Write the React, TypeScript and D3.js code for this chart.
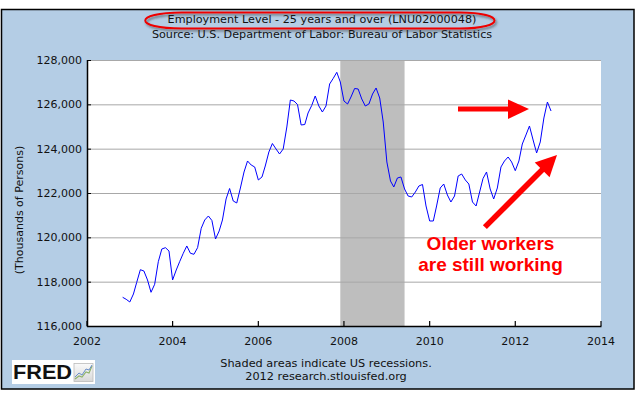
import React from "react";
import * as d3 from "d3";

// monthly values, thousands of persons (LNU02000048), Nov 2002 .. Nov 2012
const emp2002 = [117295, 117205];
const emp2003 = [117083, 117444, 117972, 118540, 118482, 118076, 117521, 117882, 118901, 119474, 119533, 119384];
const emp2004 = [118076, 118527, 118901, 119280, 119610, 119280, 119235, 119533, 120408, 120782, 120963, 120760];
const emp2005 = [119925, 120286, 120782, 121730, 122203, 121639, 121549, 122226, 122948, 123444, 123263, 123173];
const emp2006 = [122587, 122722, 123218, 123850, 124233, 123985, 123760, 123985, 124978, 126196, 126150, 125993];
const emp2007 = [125068, 125090, 125609, 125947, 126376, 125925, 125654, 125925, 126917, 127165, 127445, 127008];
const emp2008 = [126150, 126015, 126331, 126714, 126692, 126241, 125925, 126015, 126466, 126737, 126286, 125203];
const emp2009 = [123399, 122542, 122271, 122677, 122722, 122181, 121865, 121820, 122045, 122316, 122384, 121414];
const emp2010 = [120737, 120737, 121414, 122226, 122406, 121910, 121594, 121865, 122767, 122857, 122587, 122406];
const emp2011 = [121594, 121414, 122000, 122654, 122948, 122181, 121730, 122226, 123173, 123444, 123624, 123399];
const emp2012 = [123006, 123444, 124211, 124617, 125023, 124391, 123805, 124301, 125384, 126105, 125699];

const yTicks = [116000, 118000, 120000, 122000, 124000, 126000, 128000];
const xTicks = [2002, 2004, 2006, 2008, 2010, 2012, 2014];
const recessionStart = new Date(2007, 11, 1);
const recessionEnd = new Date(2009, 5, 1);

const title = "Employment Level - 25 years and over (LNU02000048)";
const subtitle = "Source: U.S. Department of Labor: Bureau of Labor Statistics";
const yLabel = "(Thousands of Persons)";
const footer1 = "Shaded areas indicate US recessions.";
const footer2 = "2012 research.stlouisfed.org";
const note = ["Older workers", "are still working"];

const W = 639;
const H = 393;
const plot = { left: 87, top: 60, right: 601, bottom: 326 };
const font = "'DejaVu Sans', Verdana, sans-serif";

type Pt = { date: Date; value: number };

export default function App() {
  const values = [
    ...emp2002, ...emp2003, ...emp2004, ...emp2005, ...emp2006, ...emp2007,
    ...emp2008, ...emp2009, ...emp2010, ...emp2011, ...emp2012,
  ];
  const data: Pt[] = values.map((v, i) => ({ date: new Date(2002, 10 + i, 1), value: v }));

  const x = d3.scaleTime()
    .domain([new Date(2002, 0, 1), new Date(2014, 0, 1)])
    .range([plot.left, plot.right]);
  const y = d3.scaleLinear().domain([116000, 128000]).range([plot.bottom, plot.top]);
  const line = d3.line<Pt>().x(d => x(d.date)).y(d => y(d.value));
  const fmt = d3.format(",");

  const red = "#ff0000";

  return (
    <div style={{ position: "fixed", left: 0, top: 0 }}>
      <svg width={W} height={H} style={{ display: "block", background: "#fff" }}>
        <defs>
          <filter id="shadow" x="-10%" y="-50%" width="120%" height="200%">
            <feDropShadow dx="1.5" dy="2" stdDeviation="1" floodColor="#333" floodOpacity="0.55" />
          </filter>
          <linearGradient id="icon" x1="0" y1="0" x2="0" y2="1">
            <stop offset="0" stopColor="#fafafa" />
            <stop offset="1" stopColor="#d8d8d8" />
          </linearGradient>
        </defs>

        {/* panel */}
        <rect x={1.5} y={9.5} width={632.5} height={379.5} fill="#b4cde5" stroke="#000" strokeWidth={1.5} />

        {/* header */}
        <text x={322} y={23} textAnchor="middle" fontFamily={font} fontSize={11.2} fill="#111">{title}</text>
        <text x={322} y={37.5} textAnchor="middle" fontFamily={font} fontSize={11.2} fill="#111">{subtitle}</text>
        <path
          d="M182,12.5 L460,12.5 C506,12.5 506,28.5 460,28.5 L182,28.5 C133,28.5 133,12.5 182,12.5 Z"
          fill="none"
          stroke="#e00"
          strokeWidth={2}
          filter="url(#shadow)"
        />

        {/* plot area */}
        <rect x={plot.left} y={plot.top} width={plot.right - plot.left} height={plot.bottom - plot.top} fill="#fff" />
        <rect
          x={x(recessionStart)}
          y={plot.top}
          width={x(recessionEnd) - x(recessionStart)}
          height={plot.bottom - plot.top}
          fill="#bebebe"
        />
        {yTicks.slice(1).map(t => (
          <line key={t} x1={plot.left} x2={plot.right} y1={y(t) + 0.5} y2={y(t) + 0.5} stroke="#a8a8a8" strokeWidth={1} />
        ))}
        <path d={line(data) || ""} fill="none" stroke="#0000ff" strokeWidth={1} />

        {/* axes */}
        <line x1={plot.left + 0.5} x2={plot.left + 0.5} y1={plot.top} y2={plot.bottom + 1} stroke="#000" strokeWidth={1.5} />
        <line x1={plot.left} x2={plot.right + 0.5} y1={plot.bottom + 0.5} y2={plot.bottom + 0.5} stroke="#000" strokeWidth={1.5} />
        {yTicks.map(t => (
          <g key={t}>
            <line x1={plot.left} x2={plot.left + 4} y1={y(t) + 0.5} y2={y(t) + 0.5} stroke="#000" />
            <text x={82} y={y(t) + 4} textAnchor="end" fontFamily={font} fontSize={11} fill="#111">{fmt(t)}</text>
          </g>
        ))}
        {xTicks.map(t => {
          const px = x(new Date(t, 0, 1));
          return (
            <g key={t}>
              <line x1={px} x2={px} y1={plot.bottom} y2={plot.bottom - 5} stroke="#000" strokeWidth={1.2} />
              <text x={px} y={344.5} textAnchor="middle" fontFamily={font} fontSize={11} fill="#111">{t}</text>
            </g>
          );
        })}
        <text
          transform={`translate(23,${210}) rotate(-90)`}
          textAnchor="middle"
          fontFamily={font}
          fontSize={11}
          fill="#111"
        >
          {yLabel}
        </text>

        {/* annotation */}
        <rect x={458} y={106.5} width={52} height={5} fill={red} />
        <polygon points="508,99.5 529,109 508,119" fill={red} />
        <g transform="translate(557,155) rotate(135)">
          <rect x={18} y={-2.8} width={84} height={5.6} fill={red} />
          <polygon points="0,0 21,-10.5 21,10.5" fill={red} />
        </g>
        {note.map((s, i) => (
          <text
            key={s}
            x={490.5}
            y={249.5 + i * 21}
            textAnchor="middle"
            fontFamily="'Liberation Sans', Arial, sans-serif"
            fontWeight="bold"
            fontSize={19}
            fill={red}
          >
            {s}
          </text>
        ))}

        {/* footer */}
        <text x={326} y={366.5} textAnchor="middle" fontFamily={font} fontSize={11.3} fill="#111">{footer1}</text>
        <text x={326} y={380} textAnchor="middle" fontFamily={font} fontSize={11.3} fill="#111">{footer2}</text>

        {/* FRED logo */}
        <rect x={12} y={360} width={83} height={24} fill="#fff" />
        <text x={13} y={378.5} fontFamily="'Liberation Sans', Arial, sans-serif" fontWeight="bold" fontSize={20} fill="#111" textLength={59} lengthAdjust="spacingAndGlyphs">FRED</text>
        <rect x={74} y={363.5} width={19} height={18} fill="url(#icon)" stroke="#bbb" strokeWidth={0.8} />
        <polyline points="75,379 79,376 82,377 86,372 89,373 92,366" fill="none" stroke="#8fb36b" strokeWidth={1.2} />
        <polyline points="75,377 79,373 82,375 86,369 89,370 92,365" fill="none" stroke="#6a8fc8" strokeWidth={1} />
      </svg>
    </div>
  );
}
